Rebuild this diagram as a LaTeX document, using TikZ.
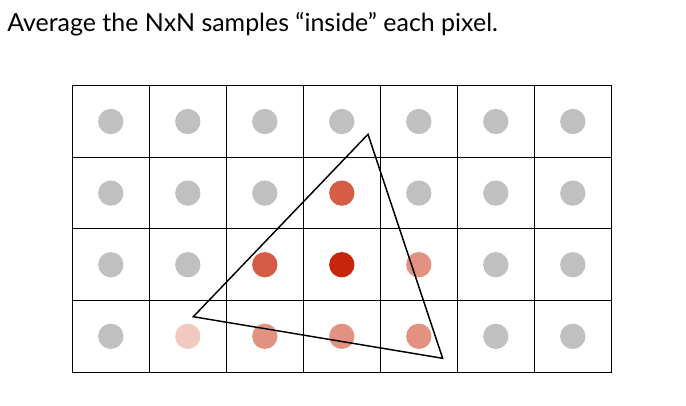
\documentclass[tikz,border=0pt]{standalone}
\usepackage{fontspec}
\setmainfont{Lato}
\usepackage{xcolor}

\definecolor{samplegray}{HTML}{C0C0C0}
\definecolor{samplefull}{HTML}{C8260B}
\definecolor{samplehigh}{HTML}{D55D46}
\definecolor{samplemid}{HTML}{E39181}
\definecolor{samplelow}{HTML}{F2C9C0}

\begin{document}
\begin{tikzpicture}[
        x=0.75pt, y=-0.75pt,
        pixel/.style={draw, rectangle, line width=0.8pt, inner sep=0pt,
            minimum width=57.75pt, minimum height=53.7pt},
        sample/.style={circle, inner sep=0pt, minimum size=19pt, fill=samplegray},
        % coverage of the pixels touched by the triangle
        fill 1-3/.style={fill=samplehigh},
        fill 2-2/.style={fill=samplehigh},
        fill 2-3/.style={fill=samplefull},
        fill 2-4/.style={fill=samplemid},
        fill 3-1/.style={fill=samplelow},
        fill 3-2/.style={fill=samplemid},
        fill 3-3/.style={fill=samplemid},
        fill 3-4/.style={fill=samplemid},
        edge line/.style={line width=1.1pt, line join=miter}
    ]
        \useasboundingbox (0,0) rectangle (686,405);

        % Caption
        \node[anchor=base west, inner sep=0pt, font=\fontsize{18.7pt}{22pt}\selectfont]
            (caption) at (7,31.7) {Average the NxN samples “inside” each pixel.};

        % Pixel grid with one sample per pixel
        \foreach \r in {0,...,3} {
            \foreach \c in {0,...,6} {
                \node[pixel] (p-\r-\c) at (110.8+77*\c, 121.5+71.6*\r) {};
                \node[sample, fill \r-\c/.try] (s-\r-\c) at (p-\r-\c.center) {};
            }
        }

        % Triangle
        \coordinate (top) at (368,134.3);
        \coordinate (left) at (193.3,316.7);
        \coordinate (right) at (442.7,358.3);
        \draw[edge line] (top) -- (left) -- (right) -- cycle;
    \end{tikzpicture}
\end{document}
